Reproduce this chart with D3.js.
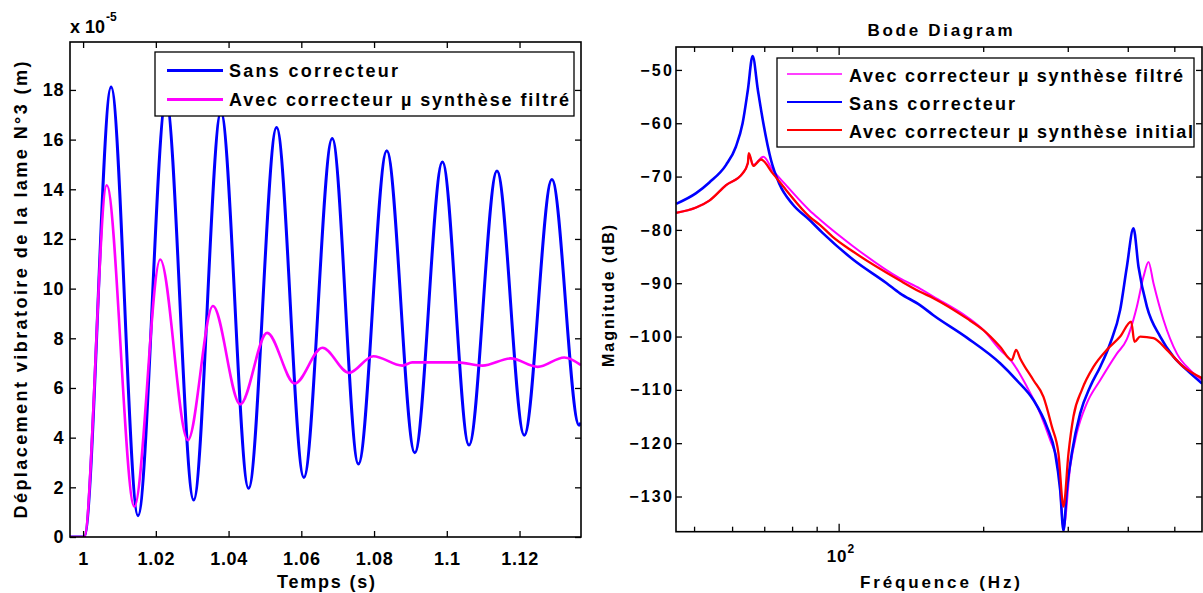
<!DOCTYPE html>
<html><head><meta charset="utf-8">
<script src="https://cdn.jsdelivr.net/npm/d3@7"></script>
<style>
body{margin:0;background:#fff}
svg text{font-family:"Liberation Sans",Arial,sans-serif;font-weight:bold;fill:#000}
</style>
</head><body><svg id="c" width="1203" height="593"></svg>
<script>
// ---------- Left chart data (displacement, x1e-5 m) ----------
const timeBlue = [0.9964, 1.0003, 1.0077, 1.0151, 1.0228, 1.0304, 1.0379, 1.0455, 1.0532, 1.0607, 1.0685, 1.0757, 1.0835, 1.0912, 1.0988, 1.1061, 1.1138, 1.1213, 1.1289, 1.1364, 1.1369];
const dispBlue = [0, 0, 18.12, 0.86, 17.6, 1.49, 17.1, 1.96, 16.49, 2.4, 16.04, 2.94, 15.55, 3.39, 15.1, 3.7, 14.74, 4.1, 14.39, 4.5, 4.6];
const timePink = [0.9964, 1.0003, 1.0065, 1.0141, 1.0212, 1.0288, 1.0357, 1.0432, 1.0506, 1.0582, 1.0658, 1.0731, 1.0798, 1.0878, 1.0905, 1.1030, 1.1098, 1.1176, 1.125, 1.1323, 1.1369];
const dispPink = [0, 0, 14.16, 1.22, 11.17, 3.9, 9.3, 5.34, 8.22, 6.18, 7.62, 6.61, 7.28, 6.9, 7.03, 7.03, 6.9, 7.19, 6.85, 7.23, 6.92];
const timeTicks = [1, 1.02, 1.04, 1.06, 1.08, 1.1, 1.12];
const timeTickLabels = ["1", "1.02", "1.04", "1.06", "1.08", "1.1", "1.12"];
const dispTicks = [0, 2, 4, 6, 8, 10, 12, 14, 16, 18];
const leftLegend = ["Sans correcteur", "Avec correcteur µ synthèse filtré"];

// ---------- Right chart data (Bode magnitude) ----------
const freqPink = [45.9, 50.5, 53.8, 58.3, 63.1, 64.7, 65.0, 66.4, 69.7, 72.9, 77.7, 86.9, 91.5, 107.3, 134.2, 147.7, 157.5, 184.9, 200.2, 216.9, 229.4, 246.6, 262.8, 275.7, 286.9, 293.9, 303.5, 313.3, 328.8, 350.4, 379.6, 398.3, 404.7, 417.8, 431.3, 441.8, 452.5, 474.8, 506.3, 539.7, 571];
const magPink  = [-76.8, -75.8, -74.5, -71.6, -69.4, -67.5, -65.8, -67.8, -66.3, -68.8, -71.6, -76.3, -78.1, -83.1, -89.1, -91, -92.5, -96.3, -98.8, -102.5, -104.7, -109.4, -114.4, -119.4, -124.4, -136, -124.4, -118.1, -112.5, -108.2, -103.2, -100.5, -98.8, -94.4, -88.8, -86, -90, -96.9, -103.2, -106.3, -108.2];
const freqBlue = [45.9, 50.5, 53.8, 58.3, 61.1, 63.1, 64.7, 66.2, 67.9, 69.7, 72.3, 75.2, 80.2, 86.9, 92.7, 107.3, 125.9, 134.2, 147.7, 157.5, 184.9, 216.9, 235, 254.5, 271.4, 282.4, 289.3, 293.9, 298.7, 305.9, 318.4, 334, 350.4, 367.6, 385.7, 398.3, 411.1, 421.1, 438.4, 467.3, 498.1, 531.2, 571];
const magBlue  = [-75.1, -73.1, -71.1, -67.8, -64.4, -60, -53.8, -47.4, -53.8, -60, -66.9, -71.3, -75.2, -78.1, -80.6, -85.6, -90, -91.9, -94.1, -96, -100.2, -105, -108.2, -111.9, -116.9, -121.9, -128.8, -136.4, -128.8, -121.9, -114.4, -109.4, -105.7, -101.3, -95, -86.9, -79.7, -86.9, -94.4, -100, -103.8, -106.3, -108.8];
const freqRed  = [45.9, 50.5, 53.8, 58.3, 63.1, 64.7, 65.0, 66.4, 68.9, 72.9, 77.7, 86.9, 91.5, 97.2, 107.3, 134.2, 147.7, 157.5, 184.9, 200.2, 216.9, 229.4, 234.2, 238.8, 254.5, 267, 278, 286.9, 293.9, 301, 308.3, 321, 339.3, 361.8, 385.7, 406.6, 413, 424.5, 452.5, 482.5, 522.6, 571];
const magRed   = [-76.8, -75.8, -74.5, -71.6, -69.4, -67.5, -65.6, -68, -66.8, -69.4, -72.5, -77.5, -79.1, -81.3, -84.1, -89.5, -91.6, -92.8, -96.6, -98.8, -101.9, -104.4, -102.5, -104.1, -108.2, -111.3, -116.9, -121.9, -131.9, -121.9, -115, -110, -105.7, -102.5, -100, -97.2, -101, -100, -100.3, -102.5, -105.7, -107.8];
const magTicks = [-130, -120, -110, -100, -90, -80, -70, -60, -50];
const freqMajorTicks = [100];
const freqMinorTicks = [50, 60, 70, 80, 90, 200, 300, 400, 500];
const rightLegend = ["Avec correcteur µ synthèse filtré", "Sans correcteur", "Avec correcteur µ synthèse initial"];

const svg = d3.select("#c");

// ================= LEFT CHART =================
const L = {x0: 70, x1: 581, y0: 42, y1: 537};
const xT = d3.scaleLinear().domain([0.9964, 1.1369]).range([L.x0, L.x1]);
const yD = d3.scaleLinear().domain([0, 19.93]).range([L.y1, L.y0]);

svg.append("clipPath").attr("id", "clipL").append("rect")
  .attr("x", L.x0).attr("y", L.y0).attr("width", L.x1 - L.x0).attr("height", L.y1 - L.y0);

const lineL = d3.line().curve(d3.curveMonotoneX).x(d => xT(d[0])).y(d => yD(d[1]));
const gL = svg.append("g").attr("clip-path", "url(#clipL)");
gL.append("path").datum(d3.zip(timeBlue, dispBlue)).attr("d", lineL)
  .attr("fill", "none").attr("stroke", "#0000ff").attr("stroke-width", 3);
gL.append("path").datum(d3.zip(timePink, dispPink)).attr("d", lineL)
  .attr("fill", "none").attr("stroke", "#ff00ff").attr("stroke-width", 2.6);

function styleAxis(g, fs, ls) {
  g.select(".domain").remove();
  g.selectAll(".tick line").attr("stroke", "#000").attr("stroke-width", 1.3);
  g.selectAll(".tick text").attr("font-size", fs).attr("letter-spacing", ls)
    .attr("font-family", '"Liberation Sans",Arial,sans-serif').attr("font-weight", "bold").attr("fill", "#000");
}
// bottom
svg.append("g").attr("transform", `translate(0,${L.y1})`)
  .call(d3.axisBottom(xT).tickValues(timeTicks).tickFormat((d, i) => timeTickLabels[i]).tickSizeInner(-6).tickSizeOuter(0).tickPadding(15))
  .call(g => styleAxis(g, 18, 0.6));
// top
svg.append("g").attr("transform", `translate(0,${L.y0})`)
  .call(d3.axisTop(xT).tickValues(timeTicks).tickFormat("").tickSizeInner(-6).tickSizeOuter(0))
  .call(g => styleAxis(g, 18, 0));
// left
svg.append("g").attr("transform", `translate(${L.x0},0)`)
  .call(d3.axisLeft(yD).tickValues(dispTicks).tickSizeInner(-6).tickSizeOuter(0).tickPadding(6))
  .call(g => styleAxis(g, 18, 0.6));
// right
svg.append("g").attr("transform", `translate(${L.x1},0)`)
  .call(d3.axisRight(yD).tickValues(dispTicks).tickFormat("").tickSizeInner(-6).tickSizeOuter(0))
  .call(g => styleAxis(g, 18, 0));
svg.append("rect").attr("x", L.x0).attr("y", L.y0).attr("width", L.x1 - L.x0).attr("height", L.y1 - L.y0)
  .attr("fill", "none").attr("stroke", "#000").attr("stroke-width", 1.6);

// exponent
const ex = svg.append("text").attr("x", 70).attr("y", 33).attr("font-size", 18);
ex.append("tspan").text("x 10");
ex.append("tspan").attr("font-size", 12).attr("dy", -12).attr("dx", 1).text("-5");

// labels
svg.append("text").attr("x", 326).attr("y", 588).attr("text-anchor", "middle").attr("font-size", 18)
  .attr("textLength", 98).attr("lengthAdjust", "spacing").text("Temps (s)");
svg.append("text").attr("transform", "translate(27,290) rotate(-90)").attr("text-anchor", "middle").attr("font-size", 18)
  .attr("textLength", 457).attr("lengthAdjust", "spacing").text("Déplacement vibratoire de la lame  N°3 (m)");

// legend left
svg.append("rect").attr("x", 155).attr("y", 52).attr("width", 419).attr("height", 64)
  .attr("fill", "#fff").attr("stroke", "#000").attr("stroke-width", 1.3);
const legLColors = ["#0000ff", "#ff00ff"];
const legLWidths = [169, 340];
leftLegend.forEach((t, i) => {
  const y = 70.5 + i * 29;
  svg.append("line").attr("x1", 167).attr("x2", 223).attr("y1", y).attr("y2", y)
    .attr("stroke", legLColors[i]).attr("stroke-width", 3);
  svg.append("text").attr("x", 229).attr("y", y + 6.5).attr("font-size", 18)
    .attr("textLength", legLWidths[i]).attr("lengthAdjust", "spacing").text(t);
});

// ================= RIGHT CHART =================
const R = {x0: 676, x1: 1202, y0: 47, y1: 531.7};
const xF = d3.scaleLog().domain([45.85, 571]).range([R.x0, R.x1]);
const yM = d3.scaleLinear().domain([-136.6, -45.7]).range([R.y1, R.y0]);

svg.append("clipPath").attr("id", "clipR").append("rect")
  .attr("x", R.x0).attr("y", R.y0).attr("width", R.x1 - R.x0).attr("height", R.y1 - R.y0);
const lineR = d3.line().curve(d3.curveMonotoneX).x(d => xF(d[0])).y(d => yM(d[1]));
const gR = svg.append("g").attr("clip-path", "url(#clipR)");
gR.append("path").datum(d3.zip(freqPink, magPink)).attr("d", lineR)
  .attr("fill", "none").attr("stroke", "#ff00ff").attr("stroke-width", 2);
gR.append("path").datum(d3.zip(freqBlue, magBlue)).attr("d", lineR)
  .attr("fill", "none").attr("stroke", "#0000ff").attr("stroke-width", 2.6);
gR.append("path").datum(d3.zip(freqRed, magRed)).attr("d", lineR)
  .attr("fill", "none").attr("stroke", "#ff0000").attr("stroke-width", 2.3);

// ticks
svg.append("g").attr("transform", `translate(0,${R.y1})`)
  .call(d3.axisBottom(xF).tickValues(freqMinorTicks).tickFormat("").tickSizeInner(-5).tickSizeOuter(0))
  .call(g => styleAxis(g, 16, 0));
svg.append("g").attr("transform", `translate(0,${R.y1})`)
  .call(d3.axisBottom(xF).tickValues(freqMajorTicks).tickFormat("").tickSizeInner(-8).tickSizeOuter(0))
  .call(g => styleAxis(g, 16, 0));
svg.append("g").attr("transform", `translate(0,${R.y0})`)
  .call(d3.axisTop(xF).tickValues(freqMinorTicks).tickFormat("").tickSizeInner(-5).tickSizeOuter(0))
  .call(g => styleAxis(g, 16, 0));
svg.append("g").attr("transform", `translate(0,${R.y0})`)
  .call(d3.axisTop(xF).tickValues(freqMajorTicks).tickFormat("").tickSizeInner(-8).tickSizeOuter(0))
  .call(g => styleAxis(g, 16, 0));
svg.append("g").attr("transform", `translate(${R.x0},0)`)
  .call(d3.axisLeft(yM).tickValues(magTicks).tickSizeInner(-6).tickSizeOuter(0).tickPadding(2))
  .call(g => styleAxis(g, 16, 2.2));
svg.append("g").attr("transform", `translate(${R.x1},0)`)
  .call(d3.axisRight(yM).tickValues(magTicks).tickFormat("").tickSizeInner(-6).tickSizeOuter(0))
  .call(g => styleAxis(g, 16, 0));
svg.append("rect").attr("x", R.x0).attr("y", R.y0).attr("width", R.x1 - R.x0).attr("height", R.y1 - R.y0)
  .attr("fill", "none").attr("stroke", "#000").attr("stroke-width", 1.6);

// 10^2 label
freqMajorTicks.forEach(f => {
  const t = svg.append("text").attr("x", xF(f) - 12).attr("y", 561.5).attr("font-size", 17);
  t.append("tspan").attr("letter-spacing", 1).text("10");
  t.append("tspan").attr("font-size", 12).attr("dy", -9).text(String(Math.round(Math.log10(f))));
});

svg.append("text").attr("x", 940).attr("y", 36).attr("text-anchor", "middle").attr("font-size", 17)
  .attr("textLength", 145).attr("lengthAdjust", "spacing").text("Bode Diagram");
svg.append("text").attr("x", 940).attr("y", 588).attr("text-anchor", "middle").attr("font-size", 17)
  .attr("textLength", 160).attr("lengthAdjust", "spacing").text("Fréquence  (Hz)");
svg.append("text").attr("transform", "translate(614,296) rotate(-90)").attr("text-anchor", "middle").attr("font-size", 16)
  .attr("textLength", 142).attr("lengthAdjust", "spacing").text("Magnitude (dB)");

// legend right
svg.append("rect").attr("x", 777).attr("y", 58).attr("width", 417).attr("height", 89)
  .attr("fill", "#fff").attr("stroke", "#000").attr("stroke-width", 1.3);
const legRColors = ["#ff00ff", "#0000ff", "#ff0000"];
const legRWidths = [334, 166, 344];
const legRStroke = [1.6, 2, 2];
rightLegend.forEach((t, i) => {
  const y = 74 + i * 28;
  svg.append("line").attr("x1", 787).attr("x2", 842).attr("y1", y).attr("y2", y)
    .attr("stroke", legRColors[i]).attr("stroke-width", legRStroke[i]);
  svg.append("text").attr("x", 849).attr("y", y + 8).attr("font-size", 18)
    .attr("textLength", legRWidths[i]).attr("lengthAdjust", "spacing").text(t);
});
</script>
</body></html>
